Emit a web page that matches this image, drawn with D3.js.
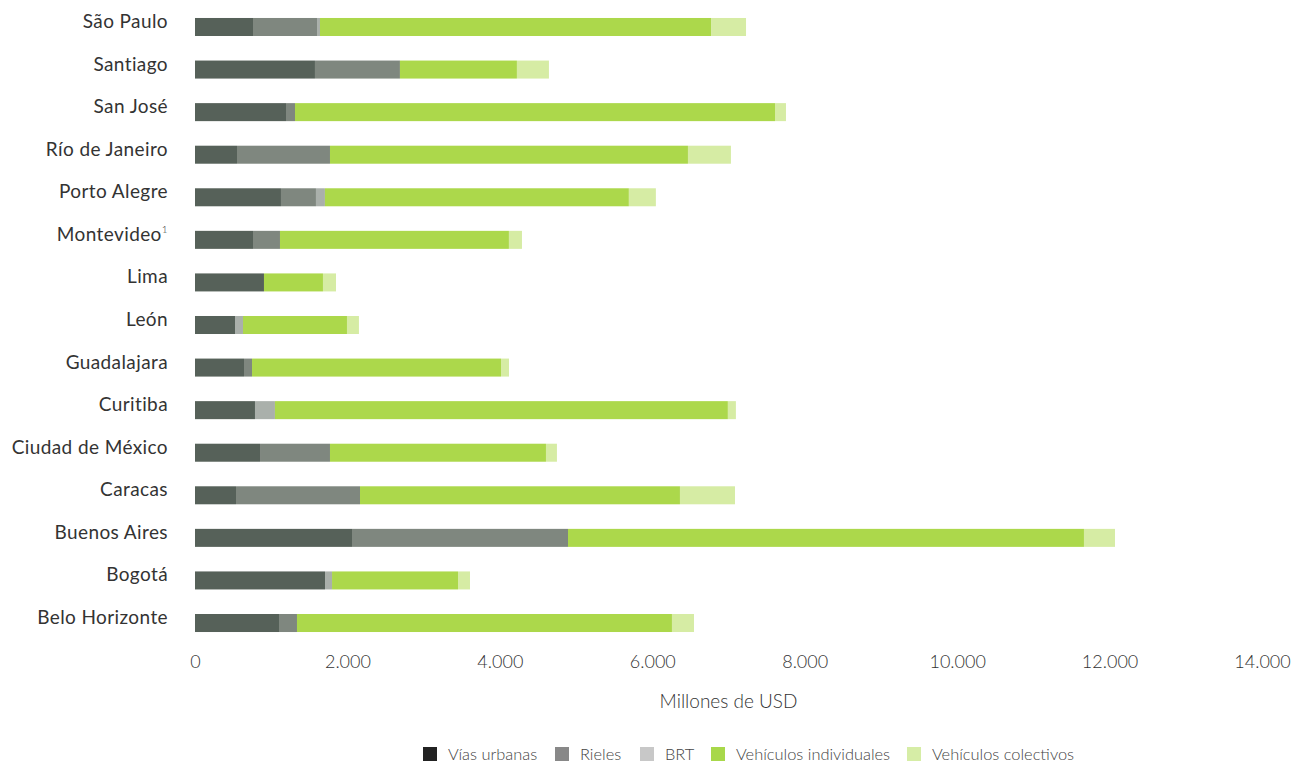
<!DOCTYPE html>
<html>
<head>
<meta charset="utf-8">
<script src="https://cdn.jsdelivr.net/npm/d3@7"></script>
<style>
  html, body { margin: 0; padding: 0; background: #fff; }
  svg { display: block; }
  text { font-family: Lato, "Open Sans", sans-serif; }
</style>
</head>
<body>
<svg id="chart" width="1306" height="768"></svg>
<script>
const cities = ["São Paulo","Santiago","San José","Río de Janeiro","Porto Alegre","Montevideo","Lima","León","Guadalajara","Curitiba","Ciudad de México","Caracas","Buenos Aires","Bogotá","Belo Horizonte"];
const seriesNames = ["Vías urbanas","Rieles","BRT","Vehículos individuales","Vehículos colectivos"];
const viasUrbanas = [761,1574,1194,551,1128,761,905,525,643,787,853,538,2060,1706,1102];
const rieles      = [840,1115,118,1220,459,354,0,0,105,0,918,1627,2834,0,236];
const brt         = [39,0,0,0,118,0,0,105,0,262,0,0,0,92,0];
const vehIndiv    = [5131,1535,6298,4697,3988,3004,774,1364,3267,5943,2834,4198,6770,1653,4920];
const vehColect   = [459,420,144,564,354,171,171,157,105,105,144,722,407,157,289];
const tickValues  = [0,2000,4000,6000,8000,10000,12000,14000];
const axisTitle = "Millones de USD";

const barColors = ["#566159","#7f877f","#aab0ab","#acd84b","#d6eca4"];
const legendColors = ["#222222","#888888","#c8c8c8","#a8d84a","#d6eda6"];

const rows = cities.map((c,i) => ({
  city: c,
  "Vías urbanas": viasUrbanas[i],
  "Rieles": rieles[i],
  "BRT": brt[i],
  "Vehículos individuales": vehIndiv[i],
  "Vehículos colectivos": vehColect[i]
}));

const svg = d3.select("#chart");
const x = d3.scaleLinear().domain([0,14000]).range([195,1262]);
const y = d3.scaleBand().domain(cities).range([5.7,644.3]).paddingInner(0.577).paddingOuter(0.2885);
const color = d3.scaleOrdinal().domain(seriesNames).range(barColors);

const stacked = d3.stack().keys(seriesNames)(rows);

svg.append("g").selectAll("g")
  .data(stacked).join("g")
  .attr("fill", d => color(d.key))
  .selectAll("rect")
  .data(d => d).join("rect")
  .attr("x", d => x(d[0]))
  .attr("width", d => Math.max(0, x(d[1]) - x(d[0])))
  .attr("y", d => y(d.data.city))
  .attr("height", y.bandwidth());

// city labels
const lab = svg.append("g").selectAll("text")
  .data(cities).join("text")
  .attr("x", 168)
  .attr("y", d => y(d) + y.bandwidth()/2 + 1)
  .attr("text-anchor", "end")
  .attr("font-size", 19)
  .attr("letter-spacing", 0.4)
  .attr("fill", "#333");
lab.each(function(d){
  const t = d3.select(this);
  if (d === "Montevideo") {
    t.append("tspan").text(d);
    t.append("tspan").text("1").attr("font-size", 10).attr("font-weight", 300).attr("dy", -8);
  } else {
    t.text(d);
  }
});

// x axis
const loc = d3.formatLocale({decimal: ",", thousands: ".", grouping: [3], currency: ["$",""]});
const fmt = loc.format(",");
const axis = svg.append("g")
  .attr("transform", "translate(0,652)")
  .call(d3.axisBottom(x).tickValues(tickValues).tickSize(0).tickFormat(fmt));
axis.select(".domain").remove();
axis.selectAll("text")
  .attr("font-family", "Lato, sans-serif")
  .attr("font-weight", 300)
  .attr("font-size", 18)
  .attr("fill", "#333")
  .attr("dy", "0.71em");

svg.append("text")
  .attr("x", (x(0) + x(14000))/2)
  .attr("y", 708)
  .attr("text-anchor", "middle")
  .attr("font-weight", 300)
  .attr("font-size", 19)
  .attr("fill", "#333")
  .text(axisTitle);

// legend
const legendX = [423, 555, 640, 711, 907];
const lg = svg.append("g").selectAll("g")
  .data(seriesNames).join("g")
  .attr("transform", (d,i) => `translate(${legendX[i]},747)`);
lg.append("rect").attr("width", 14).attr("height", 14)
  .attr("fill", (d,i) => legendColors[i]);
lg.append("text").attr("x", 25).attr("y", 13)
  .attr("font-weight", 300)
  .attr("font-size", 16.4)
  .attr("fill", "#444")
  .text(d => d);
</script>
</body>
</html>
